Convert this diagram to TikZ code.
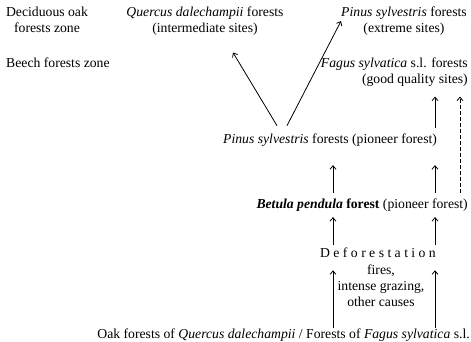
\documentclass[tikz,border=0pt]{standalone}
\usepackage{fontspec}
\setmainfont{Liberation Serif}
\usetikzlibrary{calc,arrows.meta}
\tikzset{
  txt/.style={inner sep=0pt,font=\fontsize{13.7}{16}\selectfont},
  arr/.style={line width=0.8pt,-{Straight Barb[length=3.5pt,width=6pt]}},
}
\newcommand{\spacedword}[1]{{\addfontfeature{LetterSpace=25}#1}}

\begin{document}
\begin{tikzpicture}[x=1pt,y=1pt]
  \useasboundingbox (0,0) rectangle (471,341);

  \node (zo) at (47,334.4) [txt,anchor=north,align=center] {Deciduous oak\\forests zone};
  \node (zb) at (6,274) [txt,anchor=base west] {Beech forests zone};

  \node (qd) at (205,334.4) [txt,anchor=north,align=center] {\textit{Quercus dalechampii} forests\\(intermediate sites)};
  \node (ps) at (404,334.4) [txt,anchor=north,align=center] {\textit{Pinus sylvestris} forests\\(extreme sites)};
  \node (fs) at (468,283.4) [txt,anchor=north east,align=right] {\textit{Fagus sylvatica} s.l. forests\\(good quality sites)};

  \node (pio) at (223,198) [txt,anchor=base west] {\textit{Pinus sylvestris} forests (pioneer forest)};
  \node (bet) at (468,133) [txt,anchor=base east] {\textbf{\textit{Betula pendula} forest} (pioneer forest)};
  \node (def) at (378,84) [txt,anchor=base] {\spacedword{Deforestation}};
  \node (cau) at (381,76.4) [txt,anchor=north,align=center] {fires,\\intense grazing,\\other causes};
  \node (oak) at (470,3) [txt,anchor=base east] {Oak forests of \textit{Quercus dalechampii} / Forests of \textit{Fagus sylvatica} s.l.};

  \coordinate (L) at (333,0);
  \coordinate (R) at (435,0);
  \coordinate (D) at (460,0);

% pioneer pine to the upper zones
  \draw[arr] ($(pio.north west)+(54,7.5)$) -- ($(qd.south)+(28,-17)$);
  \draw[arr] ($(pio.north west)+(64,7.5)$) -- (ps.west);
  \draw[arr,shorten <=5.5pt,shorten >=10pt] (R |- pio.north) -- (R |- fs.south);
  \draw[arr,dash pattern=on 4pt off 2pt,shorten <=5.5pt,shorten >=10pt] (D |- bet.north) -- (D |- fs.south);

\foreach \c in {L,R} {
  \draw[arr,shorten <=5.5pt,shorten >=19pt] (\c |- bet.north) -- (\c |- pio.south);
  \draw[arr,shorten <=2.6pt,shorten >=6pt] (\c |- def.north) -- (\c |- bet.south);
  \draw[arr,shorten >=13pt] (\c |- oak.north) -- (\c |- def.south);
}

\end{tikzpicture}
\end{document}
